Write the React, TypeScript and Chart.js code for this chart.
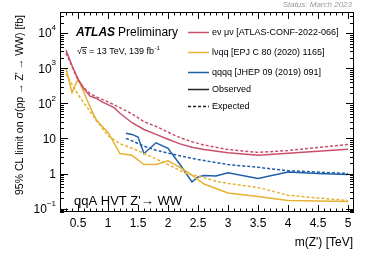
import React, { useEffect, useRef } from "react";
import { Chart, registerables } from "chart.js";
Chart.register(...registerables);

// ---- data (m(Z') in TeV, limits in fb) ----
const redObsMass = [0.3, 0.4, 0.5, 0.6, 0.7, 0.8, 0.9, 1.0, 1.1, 1.2, 1.4, 1.6, 1.8, 2.0, 2.2, 2.4, 2.6, 3.0, 3.5, 4.0, 4.5, 5.0];
const redObsLimit = [3300, 1200, 500, 260, 160, 140, 110, 92, 75, 52, 28, 18, 13, 9.5, 7, 5.6, 4.8, 3.9, 3.3, 3.8, 4.3, 4.9];
const redExpMass = [0.3, 0.4, 0.5, 0.6, 0.7, 0.8, 0.9, 1.0, 1.2, 1.4, 1.6, 1.8, 2.0, 2.2, 2.4, 2.6, 3.0, 3.5, 4.0, 4.5, 5.0];
const redExpLimit = [2700, 1100, 450, 270, 190, 155, 130, 110, 75, 50, 30, 22, 15, 10.5, 8, 6.5, 4.8, 4.0, 4.5, 5.5, 6.7];

const yelObsMass = [0.3, 0.4, 0.5, 0.6, 0.7, 0.8, 0.9, 1.0, 1.2, 1.4, 1.6, 1.8, 2.0, 2.2, 2.4, 2.6, 3.0, 3.5, 4.0, 4.5, 5.0];
const yelObsLimit = [1000, 200, 500, 200, 80, 35, 22, 15, 3.7, 3.3, 1.8, 1.8, 2.3, 1.5, 0.9, 0.5, 0.28, 0.22, 0.17, 0.165, 0.16];
const yelExpMass = [0.3, 0.4, 0.5, 0.6, 0.7, 0.8, 0.9, 1.0, 1.2, 1.5, 1.8, 2.0, 2.3, 2.5, 2.8, 3.0, 3.5, 4.0, 4.5, 5.0];
const yelExpLimit = [700, 350, 180, 100, 60, 33, 20, 12, 7, 4.5, 2.6, 1.8, 1.0, 0.85, 0.6, 0.52, 0.4, 0.24, 0.2, 0.17];

const bluObsMass = [1.3, 1.4, 1.5, 1.6, 1.8, 2.0, 2.2, 2.4, 2.5, 2.6, 2.8, 3.0, 3.5, 4.0, 4.5, 5.0];
const bluObsLimit = [14, 13, 11, 3.7, 7.5, 5.2, 1.8, 0.58, 0.8, 0.88, 0.85, 1.05, 0.72, 1.1, 1.0, 0.94];
const bluExpMass = [1.3, 1.4, 1.6, 1.8, 2.0, 2.2, 2.5, 3.0, 3.5, 4.0, 4.5, 5.0];
const bluExpLimit = [10, 8.5, 6, 4.6, 3.8, 3.2, 2.5, 1.8, 1.5, 1.2, 1.1, 1.0];

const xTickValues = [0.5, 1, 1.5, 2, 2.5, 3, 3.5, 4, 4.5, 5];
const yTickValues = [0.1, 1, 10, 100, 1000, 10000];

const legendLabels = [
  "eν μν [ATLAS-CONF-2022-066]",
  "lνqq [EPJ C 80 (2020) 1165]",
  "qqqq [JHEP 09 (2019) 091]",
  "Observed",
  "Expected",
];

const RED = "#c9506b";
const YEL = "#e7b233";
const BLU = "#1f5fa9";
const FONT = "'Liberation Sans', Arial, Helvetica, sans-serif";

const pts = (xs: number[], ys: number[]) => xs.map((x, i) => ({ x, y: ys[i] }));

const decor = {
  id: "decor",
  afterDraw(chart: any) {
    const ctx = chart.ctx as CanvasRenderingContext2D;
    const { left, right, top, bottom } = chart.chartArea;
    const xs = chart.scales.x;
    const ys = chart.scales.y;
    ctx.save();
    ctx.strokeStyle = "#000";
    ctx.lineWidth = 1;
    ctx.setLineDash([]);
    ctx.strokeRect(left + 0.5, top + 0.5, right - left - 1, bottom - top - 1);

    // x ticks (minor every 0.1, major every 0.5)
    ctx.beginPath();
    for (let i = 2; i <= 51; i++) {
      const v = i / 10;
      const px = Math.round(xs.getPixelForValue(v)) + 0.5;
      if (px < left || px > right) continue;
      const major = i % 5 === 0;
      const len = major ? 7 : 3.5;
      ctx.moveTo(px, bottom);
      ctx.lineTo(px, bottom - len);
      ctx.moveTo(px, top);
      ctx.lineTo(px, top + len);
    }
    // y ticks
    for (let d = -2; d <= 4; d++) {
      for (let m = 1; m <= 9; m++) {
        const v = m * Math.pow(10, d);
        if (v < ys.min || v > ys.max) continue;
        const py = Math.round(ys.getPixelForValue(v)) + 0.5;
        const len = m === 1 ? 8 : 4;
        ctx.moveTo(left, py);
        ctx.lineTo(left + len, py);
        ctx.moveTo(right, py);
        ctx.lineTo(right - len, py);
      }
    }
    ctx.stroke();

    // y tick labels
    ctx.fillStyle = "#000";
    ctx.textBaseline = "middle";
    const xr = 56;
    ys.ticks.forEach((t: any) => {
      const v = t.value;
      const e = Math.round(Math.log10(v));
      const py = ys.getPixelForValue(v);
      let base = "10";
      let sup = "";
      if (e === 0) base = "1";
      else if (e !== 1) sup = e < 0 ? "−" + String(-e) : String(e);
      ctx.font = `8px ${FONT}`;
      const w = sup ? ctx.measureText(sup).width : 0;
      if (sup) {
        ctx.textAlign = "left";
        ctx.fillText(sup, xr - w, py - 5);
      }
      ctx.font = `12px ${FONT}`;
      ctx.textAlign = "right";
      ctx.fillText(base, xr - w, py + 1);
    });

    // axis titles
    ctx.font = `12px ${FONT}`;
    ctx.textAlign = "right";
    ctx.textBaseline = "middle";
    ctx.fillText("m(Z') [TeV]", 353, 243);

    ctx.save();
    ctx.translate(20, 15);
    ctx.rotate(-Math.PI / 2);
    ctx.font = `10.5px ${FONT}`;
    ctx.textAlign = "right";
    ctx.textBaseline = "middle";
    ctx.fillText("95% CL limit on σ(pp → Z' → WW) [fb]", 0, 0);
    ctx.restore();

    // status
    ctx.font = `italic 8px ${FONT}`;
    ctx.fillStyle = "#999";
    ctx.textAlign = "right";
    ctx.fillText("Status: March 2023", 352, 5);

    // ATLAS label
    ctx.fillStyle = "#000";
    ctx.textAlign = "left";
    ctx.font = `italic bold 12px ${FONT}`;
    ctx.fillText("ATLAS", 76, 33);
    const aw = ctx.measureText("ATLAS").width;
    ctx.font = `12px ${FONT}`;
    ctx.fillText("Preliminary", 76 + aw + 3, 33);

    // sqrt s
    ctx.font = `9px ${FONT}`;
    const s1 = "√s = 13 TeV, 139 fb";
    ctx.fillText(s1, 77, 52);
    const w1 = ctx.measureText(s1).width;
    const wr = ctx.measureText("√").width;
    const ws = ctx.measureText("s").width;
    ctx.beginPath();
    ctx.moveTo(77 + wr - 0.5, 47.5);
    ctx.lineTo(77 + wr + ws + 0.5, 47.5);
    ctx.lineWidth = 0.8;
    ctx.stroke();
    ctx.font = `6px ${FONT}`;
    ctx.fillText("-1", 77 + w1 + 0.5, 48);

    // process label
    ctx.font = `13px ${FONT}`;
    ctx.fillText("qqA HVT Z'→ WW", 74, 201);

    // legend
    const rowsY = [32, 52, 72, 89, 106];
    const cols = [RED, YEL, BLU, "#222", "#222"];
    ctx.font = `9px ${FONT}`;
    rowsY.forEach((y, i) => {
      ctx.beginPath();
      ctx.strokeStyle = cols[i];
      ctx.lineWidth = 1.5;
      ctx.setLineDash(i === 4 ? [3, 2] : []);
      ctx.moveTo(188, y + 0.5);
      ctx.lineTo(209, y + 0.5);
      ctx.stroke();
      ctx.setLineDash([]);
      ctx.fillStyle = "#000";
      ctx.fillText(legendLabels[i], 212, y + 0.5);
    });
    ctx.restore();
  },
};

export default function App() {
  const ref = useRef<HTMLCanvasElement>(null);
  useEffect(() => {
    document.body.style.margin = "0";
    const canvas = ref.current!;
    const line = (xs: number[], ys: number[], color: string, dashed: boolean) => ({
      data: pts(xs, ys),
      borderColor: color,
      backgroundColor: color,
      borderWidth: 1.5,
      borderDash: dashed ? [3, 2] : [],
      pointRadius: 0,
      fill: false,
      tension: 0,
    });
    const chart = new Chart(canvas, {
      type: "line",
      data: {
        datasets: [
          line(redExpMass, redExpLimit, RED, true),
          line(yelExpMass, yelExpLimit, YEL, true),
          line(bluExpMass, bluExpLimit, BLU, true),
          line(redObsMass, redObsLimit, RED, false),
          line(yelObsMass, yelObsLimit, YEL, false),
          line(bluObsMass, bluObsLimit, BLU, false),
        ] as any,
      },
      options: {
        animation: false,
        responsive: false,
        devicePixelRatio: 1,
        layout: { padding: { top: 12, right: 20, left: 0, bottom: 0 } },
        plugins: { legend: { display: false }, tooltip: { enabled: false } },
        scales: {
          x: {
            type: "linear",
            min: 0.2,
            max: 5.1,
            grid: { display: false, drawTicks: false },
            border: { display: false },
            afterBuildTicks: (s: any) => {
              s.ticks = xTickValues.map((v) => ({ value: v }));
            },
            afterFit: (s: any) => {
              s.height = 45;
            },
            ticks: {
              autoSkip: false,
              maxRotation: 0,
              padding: 4,
              color: "#000",
              font: { family: FONT, size: 12 },
              callback: (v: any) => String(v),
            },
          },
          y: {
            type: "logarithmic",
            min: 0.08,
            max: 40000,
            grid: { display: false, drawTicks: false },
            border: { display: false },
            afterBuildTicks: (s: any) => {
              s.ticks = yTickValues.map((v) => ({ value: v }));
            },
            afterFit: (s: any) => {
              s.width = 60;
            },
            ticks: { display: false },
          },
        },
      } as any,
      plugins: [decor],
    });
    return () => chart.destroy();
  }, []);
  return (
    <div style={{ position: "absolute", left: 0, top: 0, width: 374, height: 257 }}>
      <canvas ref={ref} width={374} height={257} style={{ width: 374, height: 257, display: "block" }} />
    </div>
  );
}
